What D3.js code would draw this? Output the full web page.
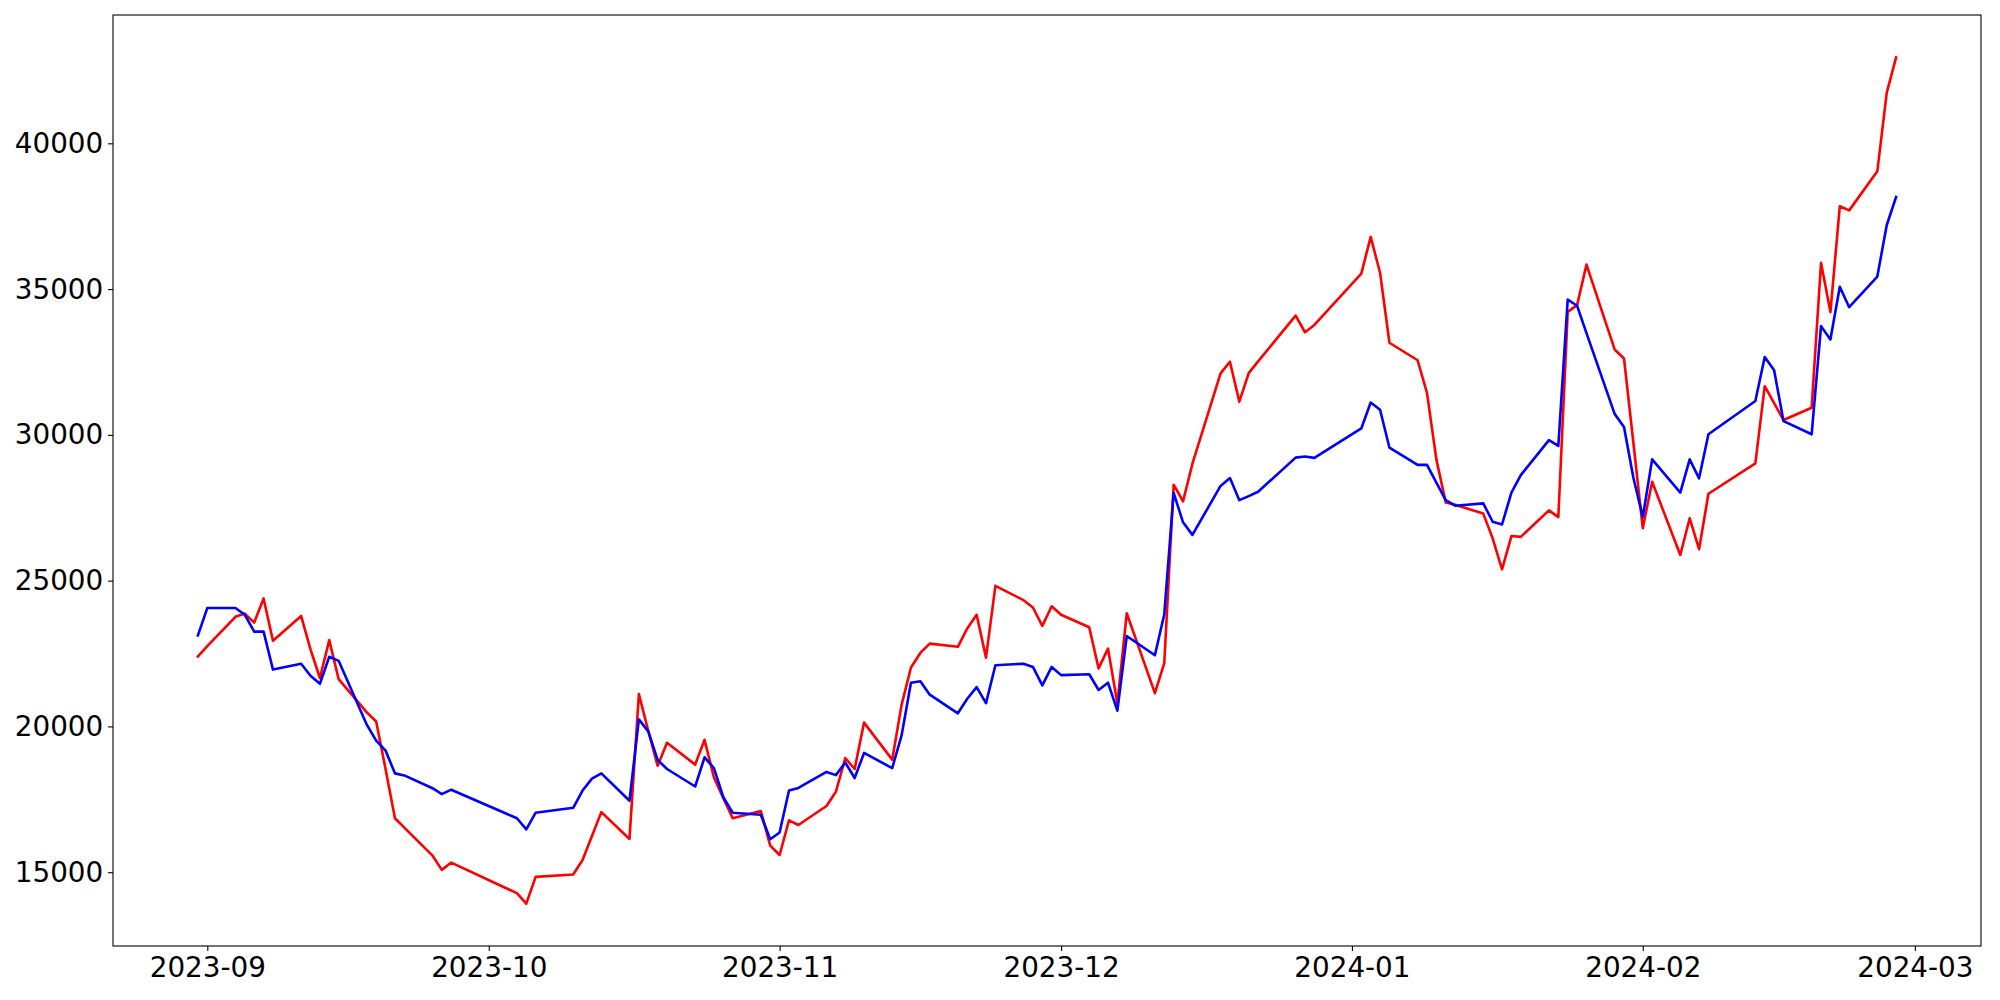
<!DOCTYPE html>
<html>
<head>
<meta charset="utf-8">
<script src="https://cdn.jsdelivr.net/npm/d3@7"></script>
<style>
  html, body { margin: 0; padding: 0; background: #fff; }
  svg { display: block; }
  text { font-family: "DejaVu Sans", sans-serif; }
</style>
</head>
<body>
<svg id="chart" width="2000" height="1000"></svg>
<script>
// Trading dates
const dates = [
  "2023-08-31",
  "2023-09-01","2023-09-04","2023-09-05","2023-09-06","2023-09-07","2023-09-08",
  "2023-09-11","2023-09-12","2023-09-13","2023-09-14","2023-09-15",
  "2023-09-18","2023-09-19","2023-09-20","2023-09-21","2023-09-22",
  "2023-09-25","2023-09-26","2023-09-27",
  "2023-10-04","2023-10-05","2023-10-06",
  "2023-10-10","2023-10-11","2023-10-12","2023-10-13",
  "2023-10-16","2023-10-17","2023-10-18","2023-10-19","2023-10-20",
  "2023-10-23","2023-10-24","2023-10-25","2023-10-26","2023-10-27",
  "2023-10-30","2023-10-31",
  "2023-11-01","2023-11-02","2023-11-03",
  "2023-11-06","2023-11-07","2023-11-08","2023-11-09","2023-11-10",
  "2023-11-13","2023-11-14","2023-11-15","2023-11-16","2023-11-17",
  "2023-11-20","2023-11-21","2023-11-22","2023-11-23","2023-11-24",
  "2023-11-27","2023-11-28","2023-11-29","2023-11-30",
  "2023-12-01",
  "2023-12-04","2023-12-05","2023-12-06","2023-12-07","2023-12-08",
  "2023-12-11","2023-12-12","2023-12-13","2023-12-14","2023-12-15",
  "2023-12-18","2023-12-19","2023-12-20","2023-12-21","2023-12-22",
  "2023-12-26","2023-12-27","2023-12-28",
  "2024-01-02","2024-01-03","2024-01-04","2024-01-05",
  "2024-01-08","2024-01-09","2024-01-10","2024-01-11","2024-01-12",
  "2024-01-15","2024-01-16","2024-01-17","2024-01-18","2024-01-19",
  "2024-01-22","2024-01-23","2024-01-24","2024-01-25","2024-01-26",
  "2024-01-29","2024-01-30","2024-01-31",
  "2024-02-01","2024-02-02",
  "2024-02-05","2024-02-06","2024-02-07","2024-02-08",
  "2024-02-13","2024-02-14","2024-02-15","2024-02-16",
  "2024-02-19","2024-02-20","2024-02-21","2024-02-22","2024-02-23",
  "2024-02-26","2024-02-27","2024-02-28"
];

// Red series
const redValues = [
  22400,
  22750,23760,23870,23560,24390,22940,
  23790,22640,21660,22960,21620,
  20480,20170,18540,16850,16530,
  15570,15080,15330,
  14280,13920,14840,
  14920,15420,16240,17060,
  16140,21110,19850,18650,19440,
  18690,19540,18250,17540,16850,
  17100,15910,
  15590,16780,16620,
  17270,17760,18910,18540,20130,
  18860,20740,22020,22520,22840,
  22730,23360,23830,22360,24820,
  24330,24080,23450,24120,
  23830,
  23400,21990,22670,20790,23880,
  21140,22170,28290,27720,29010,
  32110,32510,31140,32120,32520,
  34090,33520,33770,
  35530,36790,35560,33160,
  32560,31440,29160,27680,27600,
  27300,26450,25390,26530,26500,
  27410,27180,34220,34450,35840,
  32930,32620,29730,
  26800,28390,
  25880,27140,26080,27980,
  29020,31670,31090,30510,
  30930,35900,34210,37840,37700,
  39040,41730,42950
];

// Blue series
const blueValues = [
  23120,
  24060,24060,23830,23250,23250,21950,
  22150,21740,21460,22390,22250,
  20060,19510,19170,18390,18320,
  17880,17680,17830,
  16850,16470,17040,
  17210,17800,18210,18390,
  17450,20240,19830,18850,18540,
  17940,18940,18570,17570,17040,
  16970,16130,
  16360,17800,17890,
  18440,18330,18760,18230,19090,
  18570,19690,21500,21550,21090,
  20450,20950,21350,20800,22100,
  22150,22040,21410,22040,
  21760,
  21790,21250,21500,20540,23100,
  22440,23850,28010,27000,26570,
  28250,28520,27760,27900,28050,
  29220,29260,29210,
  30220,31110,30860,29560,
  28970,28970,28360,27760,27570,
  27650,27020,26930,28020,28620,
  29820,29620,34640,34430,33490,
  30720,30270,28530,
  27180,29160,
  28020,29160,28510,30020,
  31160,32670,32220,30470,
  30020,33730,33270,35080,34380,
  35430,37190,38160
];

const xTickLabels = ["2023-09","2023-10","2023-11","2023-12","2024-01","2024-02","2024-03"];
const yTickValues = [15000, 20000, 25000, 30000, 35000, 40000];

const parse = d3.utcParse("%Y-%m-%d");
const parseMonth = d3.utcParse("%Y-%m");
const dateObjs = dates.map(parse);

const svg = d3.select("#chart");
const W = 2000, H = 1000;
const m = { left: 113, right: W - 1981, top: 15, bottom: H - 946 };
const pw = W - m.left - m.right, ph = H - m.top - m.bottom;

svg.append("rect").attr("width", W).attr("height", H).attr("fill", "#fff");

const g = svg.append("g").attr("transform", `translate(${m.left},${m.top})`);

// domains with 5% margins (like matplotlib)
const xMin = d3.min(dateObjs), xMax = d3.max(dateObjs);
const xSpan = xMax - xMin;
const x = d3.scaleUtc()
  .domain([new Date(+xMin - 0.05 * xSpan), new Date(+xMax + 0.05 * xSpan)])
  .range([0, pw]);

const allVals = redValues.concat(blueValues);
const yMin = d3.min(allVals), yMax = d3.max(allVals);
const ySpan = yMax - yMin;
const y = d3.scaleLinear()
  .domain([yMin - 0.05 * ySpan, yMax + 0.05 * ySpan])
  .range([ph, 0]);

const fontPx = 27.8;

// axes
const xAxis = d3.axisBottom(x)
  .tickValues(xTickLabels.map(parseMonth))
  .tickFormat(d3.utcFormat("%Y-%m"))
  .tickSize(4.9).tickPadding(4.9);
const yAxis = d3.axisLeft(y)
  .tickValues(yTickValues)
  .tickFormat(d3.format("d"))
  .tickSize(4.9).tickPadding(4.9);

const gx = g.append("g").attr("transform", `translate(0,${ph})`).call(xAxis);
const gy = g.append("g").call(yAxis);
[gx, gy].forEach(a => {
  a.select(".domain").remove();
  a.selectAll(".tick line").attr("stroke", "#000").attr("stroke-width", 1.1);
  a.selectAll(".tick text").attr("fill", "#000").style("font-size", fontPx + "px")
    .style("font-family", "'DejaVu Sans', sans-serif");
});
gx.selectAll(".tick text").attr("dy", "0.76em");

// lines
const line = vals => d3.line()
  .x((d, i) => x(dateObjs[i]))
  .y(d => y(d))(vals);

const plot = g.append("g");
plot.append("path").attr("d", line(redValues))
  .attr("fill", "none").attr("stroke", "#ff0000").attr("stroke-width", 2.6)
  .attr("stroke-linejoin", "round").attr("stroke-linecap", "square");
plot.append("path").attr("d", line(blueValues))
  .attr("fill", "none").attr("stroke", "#0000ff").attr("stroke-width", 2.6)
  .attr("stroke-linejoin", "round").attr("stroke-linecap", "square");

// frame
g.append("rect").attr("x", 0).attr("y", 0).attr("width", pw).attr("height", ph)
  .attr("fill", "none").attr("stroke", "#000").attr("stroke-width", 1.1);
</script>
</body>
</html>
